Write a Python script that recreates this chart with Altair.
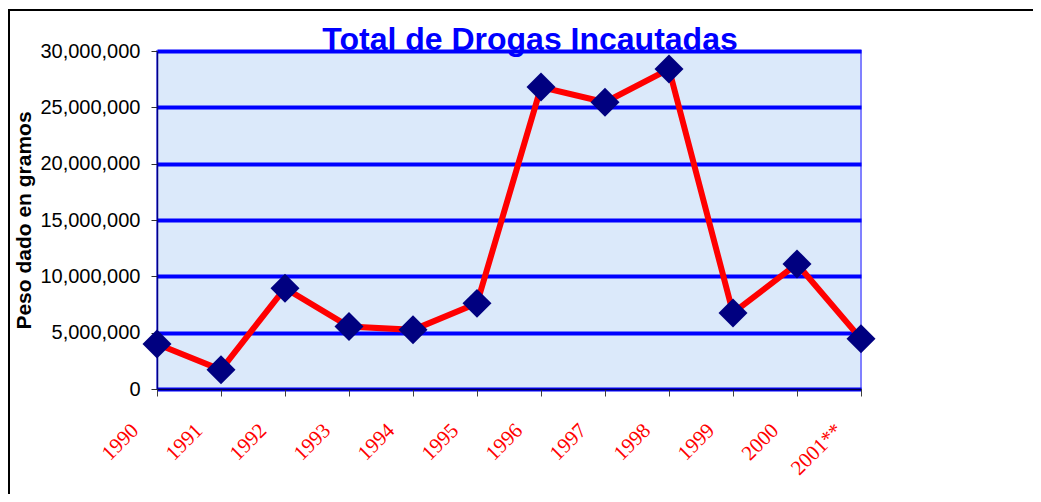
import altair as alt
import pandas as pd

years = ["1990", "1991", "1992", "1993", "1994", "1995", "1996", "1997",
         "1998", "1999", "2000", "2001**"]
values = [4000000, 1700000, 8950000, 5550000, 5250000, 7600000, 26800000,
          25450000, 28400000, 6750000, 11100000, 4450000]
title_text = "Total de Drogas Incautadas"

df = pd.DataFrame({"year": years, "value": values})

W, H = 704, 338

x_enc = alt.X("year:N", sort=years,
              scale=alt.Scale(type="point", padding=0),
              axis=alt.Axis(title=None, labelAngle=-45, labelAlign="right",
                            labelBaseline="middle", labelColor="#ff0000",
                            labelFont="Liberation Serif", labelFontSize=21,
                            labelPadding=31, labelOffset=-22,
                            tickSize=7, tickColor="#404040",
                            domainColor="#000040", domainWidth=1.5,
                            grid=False, labelOverlap=False))
y_enc = alt.Y("value:Q",
              scale=alt.Scale(domain=[0, 30000000], nice=False),
              axis=alt.Axis(title="Peso dado en gramos", format=",.0f",
                            values=[0, 5000000, 10000000, 15000000, 20000000,
                                    25000000, 30000000],
                            labelFont="Liberation Sans", labelFontSize=20,
                            labelColor="#000000", labelPadding=11,
                            tickSize=6, tickColor="#303030",
                            domainColor="#000080", domainWidth=1.5,
                            grid=True, gridColor="#0000ff", gridWidth=4,
                            titleFont="Liberation Sans", titleFontSize=21,
                            titleFontWeight="bold", titleColor="#000000",
                            titleAngle=-90, titleX=-127, titleY=H / 2,
                            titleAlign="center", titleBaseline="alphabetic"))

line = alt.Chart(df).mark_line(color="#ff0000", strokeWidth=6).encode(x=x_enc, y=y_enc)
points = alt.Chart(df).mark_point(shape="diamond", filled=True, color="#000080",
                                  size=840, opacity=1).encode(x=x_enc, y=y_enc)

frame_v = alt.Chart(df).mark_rule(color="#000000", strokeWidth=2, clip=False).encode(
    x=alt.value(-148), y=alt.value(-41), y2=alt.value(445))
frame_h = alt.Chart(df).mark_rule(color="#000000", strokeWidth=2, clip=False).encode(
    x=alt.value(-149), x2=alt.value(880), y=alt.value(-41))

title = alt.Chart(pd.DataFrame({"t": [title_text]})).mark_text(
    font="Liberation Sans", fontSize=32, fontWeight="bold", color="#0000ff",
    align="center", baseline="alphabetic", clip=False
).encode(text="t:N", x=alt.value(373), y=alt.value(-1))

chart = alt.layer(line, points, title, frame_v, frame_h).properties(
    width=W, height=H,
    autosize=alt.AutoSizeParams(type="none"),
    padding={"left": 149, "top": 43, "right": 172, "bottom": 105},
).configure_view(fill="#dbe9fa", stroke="#8080ff", strokeWidth=2)

chart.save("out.html", embed_options={"renderer": "svg", "actions": False})
